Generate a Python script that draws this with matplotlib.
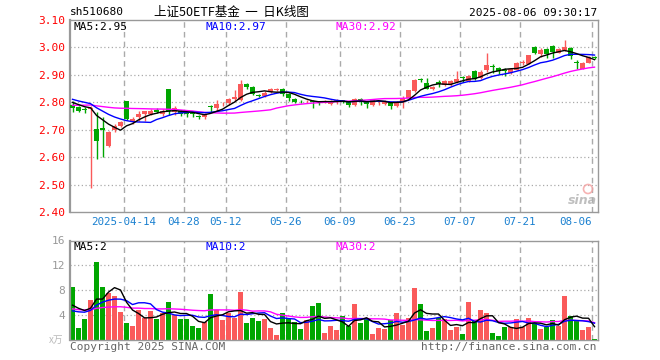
import numpy as np
import matplotlib
matplotlib.use('Agg')
from matplotlib import pyplot as plt
from matplotlib.patches import Circle

# daily candles, 2025-03-31 .. 2025-08-06
opens = [2.790, 2.782, 2.775, 2.775, 2.703, 2.705, 2.642, 2.700, 2.714, 2.803,
         2.727, 2.745, 2.757, 2.757, 2.773, 2.757, 2.848, 2.763, 2.769, 2.760,
         2.760, 2.748, 2.748, 2.785, 2.780, 2.792, 2.797, 2.813, 2.810, 2.868,
         2.855, 2.828, 2.823, 2.838, 2.845, 2.850, 2.830, 2.813, 2.805, 2.803,
         2.805, 2.801, 2.800, 2.795, 2.804, 2.808, 2.800, 2.791, 2.812, 2.803,
         2.791, 2.800, 2.794, 2.797, 2.786, 2.800, 2.816, 2.840, 2.885, 2.871,
         2.848, 2.873, 2.862, 2.865, 2.875, 2.890, 2.879, 2.914, 2.890, 2.916,
         2.930, 2.926, 2.916, 2.908, 2.918, 2.945, 2.941, 3.003, 2.975, 2.996,
         3.004, 2.981, 2.992, 2.997, 2.945, 2.923, 2.944, 2.963]
highs = [2.805, 2.785, 2.782, 2.787, 2.765, 2.748, 2.695, 2.720, 2.730, 2.805,
         2.745, 2.770, 2.770, 2.775, 2.780, 2.775, 2.850, 2.785, 2.772, 2.763,
         2.765, 2.752, 2.760, 2.790, 2.810, 2.800, 2.815, 2.845, 2.883, 2.872,
         2.858, 2.830, 2.840, 2.853, 2.852, 2.853, 2.833, 2.816, 2.810, 2.810,
         2.808, 2.806, 2.810, 2.810, 2.812, 2.810, 2.804, 2.815, 2.815, 2.806,
         2.812, 2.806, 2.810, 2.800, 2.803, 2.822, 2.846, 2.885, 2.888, 2.890,
         2.860, 2.880, 2.880, 2.880, 2.914, 2.895, 2.900, 2.916, 2.918, 2.980,
         2.938, 2.928, 2.926, 2.922, 2.946, 2.955, 2.974, 3.006, 2.997, 2.998,
         3.010, 2.997, 3.027, 3.002, 2.953, 2.946, 2.968, 2.967]
lows = [2.765, 2.765, 2.762, 2.487, 2.592, 2.600, 2.638, 2.692, 2.710, 2.737,
        2.720, 2.730, 2.730, 2.752, 2.762, 2.750, 2.755, 2.755, 2.750, 2.745,
        2.748, 2.738, 2.740, 2.765, 2.770, 2.785, 2.790, 2.805, 2.805, 2.850,
        2.826, 2.818, 2.818, 2.835, 2.840, 2.822, 2.803, 2.796, 2.797, 2.798,
        2.779, 2.790, 2.797, 2.790, 2.795, 2.797, 2.781, 2.788, 2.790, 2.779,
        2.788, 2.790, 2.790, 2.775, 2.782, 2.779, 2.814, 2.838, 2.875, 2.848,
        2.845, 2.855, 2.860, 2.860, 2.870, 2.875, 2.875, 2.883, 2.886, 2.912,
        2.907, 2.904, 2.897, 2.902, 2.916, 2.937, 2.938, 2.975, 2.965, 2.960,
        2.962, 2.978, 2.988, 2.957, 2.923, 2.921, 2.942, 2.957]
closes = [2.778, 2.770, 2.772, 2.780, 2.660, 2.700, 2.690, 2.714, 2.727, 2.740,
          2.740, 2.758, 2.767, 2.770, 2.765, 2.768, 2.768, 2.778, 2.758, 2.757,
          2.756, 2.745, 2.757, 2.782, 2.795, 2.795, 2.813, 2.818, 2.865, 2.855,
          2.830, 2.824, 2.834, 2.849, 2.847, 2.832, 2.817, 2.801, 2.803, 2.806,
          2.800, 2.800, 2.804, 2.803, 2.807, 2.806, 2.789, 2.812, 2.809, 2.795,
          2.810, 2.803, 2.800, 2.785, 2.800, 2.816, 2.843, 2.883, 2.882, 2.850,
          2.857, 2.865, 2.876, 2.877, 2.885, 2.888, 2.895, 2.886, 2.910, 2.936,
          2.927, 2.914, 2.914, 2.920, 2.942, 2.947, 2.971, 2.978, 2.991, 2.975,
          2.982, 2.995, 3.002, 2.967, 2.942, 2.943, 2.964, 2.961]
volumes = [8.5, 2.0, 3.4, 6.4, 12.6, 8.5, 7.6, 7.0, 4.5, 2.8,
           2.2, 4.8, 3.5, 4.6, 3.4, 4.4, 6.1, 4.0, 3.4, 3.4,
           2.2, 2.0, 2.9, 7.4, 4.8, 3.2, 4.4, 3.6, 7.7, 2.7,
           3.6, 3.1, 3.4, 2.0, 0.8, 4.3, 3.3, 2.9, 1.8, 3.2,
           5.4, 5.9, 1.1, 2.2, 1.6, 3.8, 2.3, 5.8, 2.7, 3.3,
           0.9, 1.9, 1.7, 3.2, 4.3, 2.4, 3.5, 8.3, 5.8, 1.4,
           1.9, 3.5, 3.3, 1.6, 2.1, 1.0, 6.1, 3.2, 4.8, 4.3,
           1.1, 0.6, 2.1, 2.1, 3.4, 2.1, 3.5, 2.7, 1.8, 2.1,
           3.2, 2.2, 7.0, 3.8, 3.0, 1.6, 2.1, 0.2]

# 29 sessions before the window, estimated from where the MA lines start
warmup_close = [2.76, 2.77, 2.75, 2.76, 2.78, 2.77, 2.78, 2.76, 2.75, 2.76,
                2.77, 2.78, 2.79, 2.78, 2.77, 2.79, 2.80, 2.81, 2.82, 2.81,
                2.83, 2.82, 2.83, 2.81, 2.82, 2.81, 2.81, 2.80, 2.80]
warmup_vol = [5.5, 4.8, 6.2, 5.0, 4.6, 5.8, 5.2, 4.4, 5.6, 6.0,
              4.9, 5.3, 4.7, 5.1, 4.5, 5.4, 5.0, 4.8, 5.6, 4.6,
              3.6, 4.0, 3.5, 4.1, 3.7, 4.5, 5.2, 4.6, 5.2]

date_idx = [9, 19, 26, 36, 45, 55, 65, 75, 87]
date_labels = ['2025-04-14', '04-28', '05-12', '05-26', '06-09',
               '06-23', '07-07', '07-21', '08-06']
price_ticks = [2.40, 2.50, 2.60, 2.70, 2.80, 2.90, 3.00, 3.10]
vol_ticks = [4, 8, 12, 16]

RED = '#fa5a5a'
GREEN = '#00a600'
GRID = '#aaaaaa'
MONO = 'DejaVu Sans Mono'
n = len(closes)
x = np.arange(n)


def ma(hist, vals, k):
    full = np.concatenate([hist, vals])
    m = np.convolve(full, np.ones(k) / k, mode='valid')
    return m[-len(vals):]


W, H = 660, 360
fig = plt.figure(figsize=(6.6, 3.6), dpi=100)
ax = fig.add_axes([70 / W, 1 - 212 / H, 528 / W, 192 / H])
axv = fig.add_axes([70 / W, 1 - 340 / H, 528 / W, 99.5 / H])

for a in (ax, axv):
    a.set_xlim(-0.42, n - 0.42)
    for s in a.spines.values():
        s.set_color('#999999')
        s.set_linewidth(1.0)
    a.spines['left'].set_linewidth(1.6)
    a.tick_params(length=0)
    for d in date_idx:
        a.axvline(d - 0.45, color=GRID, lw=1.0, ls=(0, (4, 3)), zorder=0)

# price panel
ax.set_ylim(2.40, 3.10)
for p in price_ticks[1:-1]:
    ax.axhline(p, color=GRID, lw=0.9, ls=(0, (1, 2)), zorder=0)
for i in range(n):
    o, h, l, c = opens[i], highs[i], lows[i], closes[i]
    col = RED if c >= o else GREEN
    ax.vlines(i, l, h, color=col, lw=1.0, zorder=2)
    ax.bar(i, max(abs(c - o), 0.0035), bottom=min(o, c), width=0.8,
           color=col, zorder=3)
ax.plot(x, ma(warmup_close, closes, 30), color='#ff00ff', lw=1.0, zorder=4)
ax.plot(x, ma(warmup_close, closes, 10), color='#0000ff', lw=1.0, zorder=4)
ax.plot(x, ma(warmup_close, closes, 5), color='black', lw=1.0, zorder=4)
ax.set_yticks(price_ticks)
ax.set_yticklabels(['%.2f' % p for p in price_ticks], color='#ff0000',
                   family=MONO, fontsize=8)
ax.set_xticks([d - 0.45 for d in date_idx])
ax.set_xticklabels(date_labels, color='#1a80d0', family=MONO, fontsize=7.8)
ax.tick_params(axis='x', pad=3.5)
ax.get_xticklabels()[-1].set_horizontalalignment('right')

# volume panel
axv.set_ylim(0, 16)
for v in vol_ticks[:-1]:
    axv.axhline(v, color=GRID, lw=0.9, ls=(0, (1, 2)), zorder=0)
vcols = [RED if closes[i] >= opens[i] else GREEN for i in range(n)]
axv.bar(x, volumes, width=0.8, color=vcols, zorder=2)
axv.plot(x, ma(warmup_vol, volumes, 30), color='#ff00ff', lw=1.0, zorder=4)
axv.plot(x, ma(warmup_vol, volumes, 10), color='#0000ff', lw=1.0, zorder=4)
axv.plot(x, ma(warmup_vol, volumes, 5), color='black', lw=1.0, zorder=4)
axv.set_yticks(vol_ticks)
axv.set_yticklabels([str(v) for v in vol_ticks], color='#999999',
                    family=MONO, fontsize=8)
axv.set_xticks([])


def px_text(px, py, s, **kw):
    kw.setdefault('family', MONO)
    kw.setdefault('fontsize', 8)
    kw.setdefault('va', 'center')
    fig.text(px / W, 1 - py / H, s, **kw)


px_text(70, 12, 'sh510680', color='black')
px_text(231, 12, '上证50ETF基金  一  日K线图', ha='center', color='black',
        family=['Noto Sans CJK SC', 'DejaVu Sans'], fontsize=9)
px_text(597, 13, '2025-08-06 09:30:17', ha='right', color='black')

px_text(74, 27, 'MA5:2.95', color='black')
px_text(205, 27, 'MA10:2.97', color='#0000ff')
px_text(335, 27, 'MA30:2.92', color='#ff00ff')
px_text(74, 247, 'MA5:2', color='black')
px_text(205, 247, 'MA10:2', color='#0000ff')
px_text(335, 247, 'MA30:2', color='#ff00ff')

px_text(56, 340, 'x万', ha='center', color='#bbbbbb', fontsize=7,
        family=['Noto Sans CJK SC', 'DejaVu Sans'])
px_text(70, 347, 'Copyright 2025 SINA.COM', color='#666666')
px_text(597, 347, 'http://finance.sina.com.cn', ha='right', color='#666666')

# faint sina watermark
px_text(582, 200, 'sina', ha='center', color='#b0b0b0', fontsize=9,
        family='DejaVu Sans', style='italic', weight='bold', alpha=0.8)
fig.add_artist(Circle((588, H - 189), 4.5, transform=None, fill=False,
                      edgecolor='#f4a0a0', lw=1.2, alpha=0.8))

fig.savefig('out.png', dpi=100)
